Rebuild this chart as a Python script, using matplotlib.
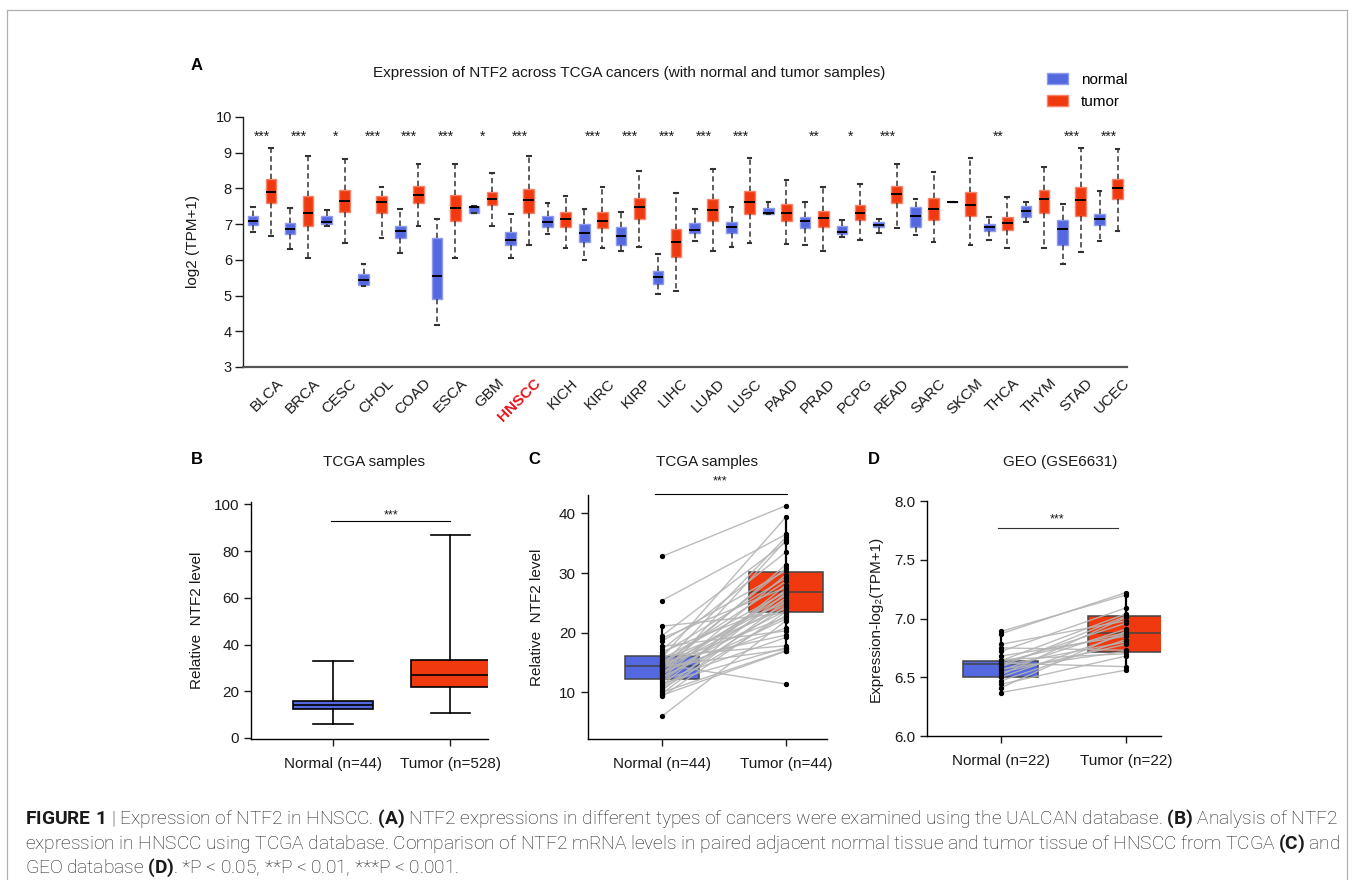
import numpy as np
import matplotlib
matplotlib.use('Agg')
import matplotlib.pyplot as plt
from matplotlib import font_manager
from matplotlib.patches import Patch
from matplotlib.lines import Line2D
import matplotlib.transforms as mtransforms

# ---------------- data ----------------
cancers = ['BLCA', 'BRCA', 'CESC', 'CHOL', 'COAD', 'ESCA', 'GBM', 'HNSCC', 'KICH', 'KIRC',
           'KIRP', 'LIHC', 'LUAD', 'LUSC', 'PAAD', 'PRAD', 'PCPG', 'READ', 'SARC', 'SKCM',
           'THCA', 'THYM', 'STAD', 'UCEC']
normal_whislo = [6.79, 6.30, 6.96, 5.27, 6.20, 4.17, 7.30, 6.06, 6.73, 6.00, 6.26, 5.04,
                 6.53, 6.37, 7.27, 6.42, 6.63, 6.74, 6.69, 7.62, 6.56, 7.07, 5.88, 6.53]
normal_q1 = [6.98, 6.71, 6.99, 5.30, 6.62, 4.89, 7.30, 6.41, 6.92, 6.49, 6.42, 5.33,
             6.74, 6.74, 7.27, 6.88, 6.71, 6.91, 6.93, 7.62, 6.82, 7.19, 6.42, 6.97]
normal_med = [7.09, 6.86, 7.05, 5.44, 6.82, 5.56, 7.49, 6.56, 7.05, 6.75, 6.67, 5.52,
              6.84, 6.93, 7.30, 7.09, 6.79, 6.98, 7.22, 7.62, 6.92, 7.36, 6.86, 7.15]
normal_q3 = [7.23, 7.04, 7.23, 5.61, 6.96, 6.62, 7.50, 6.79, 7.23, 6.99, 6.92, 5.70,
             7.03, 7.07, 7.45, 7.19, 6.96, 7.05, 7.47, 7.62, 7.01, 7.50, 7.12, 7.28]
normal_whishi = [7.49, 7.44, 7.39, 5.88, 7.42, 7.15, 7.51, 7.29, 7.60, 7.42, 7.33, 6.17,
                 7.42, 7.49, 7.62, 7.62, 7.11, 7.15, 7.71, 7.62, 7.21, 7.63, 7.57, 7.92]
tumor_whislo = [6.68, 6.04, 6.48, 6.60, 6.95, 6.04, 6.96, 6.42, 6.34, 6.32, 6.37, 5.14,
                6.24, 6.48, 6.44, 6.26, 6.55, 6.88, 6.50, 6.42, 6.32, 6.34, 6.21, 6.81]
tumor_q1 = [7.58, 6.96, 7.35, 7.32, 7.58, 7.10, 7.53, 7.32, 6.91, 6.88, 7.14, 6.09,
            7.09, 7.28, 7.08, 6.93, 7.12, 7.58, 7.12, 7.23, 6.84, 7.30, 7.23, 7.69]
tumor_med = [7.91, 7.30, 7.65, 7.61, 7.81, 7.46, 7.70, 7.68, 7.13, 7.09, 7.49, 6.51,
             7.39, 7.61, 7.30, 7.18, 7.32, 7.83, 7.41, 7.54, 7.02, 7.71, 7.68, 8.02]
tumor_q3 = [8.25, 7.78, 7.95, 7.78, 8.06, 7.82, 7.89, 7.97, 7.34, 7.34, 7.72, 6.85,
            7.69, 7.93, 7.56, 7.38, 7.53, 8.06, 7.72, 7.89, 7.21, 7.96, 8.04, 8.27]
tumor_whishi = [9.13, 8.91, 8.83, 8.04, 8.68, 8.68, 8.44, 8.90, 7.78, 8.04, 8.48, 7.86,
                8.55, 8.85, 8.24, 8.04, 8.12, 8.67, 8.47, 8.85, 7.76, 8.60, 9.12, 9.10]
significance = ['***', '***', '*', '***', '***', '***', '*', '***', '', '***', '***', '***',
                '***', '***', '', '**', '*', '***', '', '', '**', '', '***', '***']

# Panel B (TCGA, unpaired) box statistics
b_groups = ['Normal (n=44)', 'Tumor (n=528)']
b_whislo = [5.8, 10.7]
b_q1 = [12.4, 21.8]
b_med = [14.2, 26.9]
b_q3 = [16.0, 33.5]
b_whishi = [32.8, 86.9]

# Panel C (TCGA paired samples)
c_groups = ['Normal (n=44)', 'Tumor (n=44)']
c_normal = [32.8, 25.4, 21.1, 19.5, 19.1, 18.6, 17.7, 17.2, 16.8, 16.5, 16.1, 15.8, 15.6,
            15.3, 15.1, 14.9, 14.7, 14.6, 14.5, 14.4, 14.4, 14.3, 14.1, 13.9, 13.7, 13.5,
            13.3, 13.1, 12.8, 12.6, 12.4, 12.2, 12.0, 11.8, 11.5, 11.2, 10.9, 10.6, 10.3,
            10.0, 9.8, 9.5, 9.3, 6.0]
c_tumor = [41.3, 36.5, 23.3, 35.2, 27.6, 30.4, 20.3, 33.5, 25.0, 29.2, 17.8, 39.4, 26.8,
           24.1, 19.6, 28.6, 11.4, 22.6, 36.0, 25.5, 30.8, 17.2, 26.3, 24.7, 31.4, 20.8,
           27.0, 23.7, 35.5, 22.3, 29.7, 25.8, 19.2, 27.2, 17.5, 28.0, 24.4, 22.9, 26.6,
           17.0, 25.3, 16.9, 23.5, 22.0]
c_q1 = [12.19, 23.44]
c_med = [14.43, 26.79]
c_q3 = [16.16, 30.26]
c_whislo = [9.3, 16.9]
c_whishi = [21.1, 39.4]

# Panel D (GEO GSE6631 paired samples)
d_groups = ['Normal (n=22)', 'Tumor (n=22)']
d_normal = [6.89, 6.87, 6.78, 6.75, 6.72, 6.68, 6.65, 6.64, 6.63, 6.62, 6.61, 6.60, 6.59,
            6.57, 6.56, 6.54, 6.52, 6.50, 6.47, 6.44, 6.41, 6.37]
d_tumor = [7.20, 7.22, 6.98, 6.73, 7.09, 6.85, 6.70, 7.04, 6.88, 6.59, 6.96, 6.80, 7.02,
           6.72, 6.91, 6.78, 7.01, 6.87, 6.82, 6.68, 6.89, 6.56]
d_q1 = [6.499, 6.715]
d_med = [6.613, 6.879]
d_q3 = [6.641, 7.024]
d_whislo = [6.37, 6.56]
d_whishi = [6.89, 7.22]

# ---------------- style ----------------
entries = font_manager.fontManager.ttflist
installed = {f.name for f in entries}
BASE = 'Liberation Sans' if 'Liberation Sans' in installed else 'DejaVu Sans'
CAP_FONT = 'Roboto' if 'Roboto' in installed else BASE
CAP_WEIGHT = 'normal'
for f in entries:
    if f.name == CAP_FONT and str(f.weight) in ('300', 'light'):
        CAP_WEIGHT = 'light'
        break
plt.rcParams['font.family'] = [BASE, 'DejaVu Sans']
plt.rcParams['mathtext.fontset'] = 'custom'
plt.rcParams['mathtext.rm'] = CAP_FONT
plt.rcParams['mathtext.bf'] = CAP_FONT + ':bold'
plt.rcParams['axes.linewidth'] = 1.0

BLUE = '#5468E0'
BLUE_EDGE = '#8E9BEF'
RED = '#F0390F'
RED_EDGE = '#F7836A'
TXT = '#1a1a1a'

W, H = 1357, 880
fig = plt.figure(figsize=(W / 100, H / 100), dpi=100)


def rect(l, t, r, b):
    return [l / W, 1 - b / H, (r - l) / W, (b - t) / H]


def stats(lo, q1, med, q3, hi):
    return [dict(whislo=a, q1=b, med=c, q3=d, whishi=e, fliers=[])
            for a, b, c, d, e in zip(lo, q1, med, q3, hi)]


# ---------------- panel A ----------------
axA = fig.add_axes(rect(243, 117, 1127, 367))
pos = np.arange(len(cancers))
common = dict(patch_artist=True, showfliers=False,
              medianprops=dict(color='black', lw=1.4),
              whiskerprops=dict(color='#333333', lw=1.1, linestyle=(0, (3.5, 2.2))),
              capprops=dict(color='#333333', lw=1.5))
axA.bxp(stats(normal_whislo, normal_q1, normal_med, normal_q3, normal_whishi),
        positions=pos - 0.245, widths=0.29, capwidths=0.1,
        boxprops=dict(facecolor=BLUE, edgecolor=BLUE_EDGE, lw=1.0), **common)
axA.bxp(stats(tumor_whislo, tumor_q1, tumor_med, tumor_q3, tumor_whishi),
        positions=pos + 0.245, widths=0.29, capwidths=0.1,
        boxprops=dict(facecolor=RED, edgecolor=RED_EDGE, lw=1.0), **common)
for i, s in enumerate(significance):
    if s:
        axA.text(i, 9.44, s, ha='center', va='center', fontsize=10, color=TXT)
axA.set_xlim(-0.52, 23.5)
axA.set_ylim(3, 10)
axA.set_yticks(range(3, 11))
axA.tick_params(axis='y', length=6, width=1, labelsize=10.5, colors=TXT, pad=2)
axA.tick_params(axis='x', length=0, pad=0)
axA.set_xticks(pos)
axA.set_xticklabels(cancers, rotation=45, ha='right', va='center',
                    rotation_mode='anchor', fontsize=11, color=TXT)
offset = mtransforms.ScaledTranslation(19 / 100, -14 / 100, fig.dpi_scale_trans)
for lab in axA.get_xticklabels():
    lab.set_transform(lab.get_transform() + offset)
    if lab.get_text() == 'HNSCC':
        lab.set_color('#E8141C')
        lab.set_fontweight('bold')
for sp in ['top', 'right']:
    axA.spines[sp].set_visible(False)
axA.spines['left'].set_color('#222222')
axA.spines['bottom'].set_color('#555555')
axA.spines['bottom'].set_linewidth(1.6)
axA.set_ylabel('log2 (TPM+1)', fontsize=11, color=TXT)
axA.yaxis.set_label_coords(-0.049, 0.5)

fig.text(629 / W, 1 - 72.5 / H, 'Expression of NTF2 across TCGA cancers (with normal and tumor samples)',
         ha='center', va='center', fontsize=11, color=TXT)
fig.legend(handles=[Patch(facecolor=BLUE, edgecolor=BLUE_EDGE, label='normal'),
                    Patch(facecolor=RED, edgecolor=RED_EDGE, label='tumor')],
           loc='upper left', bbox_to_anchor=(1047 / W, 1 - 73 / H), frameon=False,
           fontsize=11, handlelength=1.35, handleheight=0.7, handletextpad=0.85,
           labelspacing=0.5, borderaxespad=0, borderpad=0)


def style_small(ax):
    for sp in ['top', 'right']:
        ax.spines[sp].set_visible(False)
    ax.tick_params(length=5, width=1, labelsize=11, colors=TXT)
    ax.tick_params(axis='x', pad=8)


# ---------------- panel B ----------------
axB = fig.add_axes(rect(251, 502, 488, 738.7))
axB.bxp(stats(b_whislo, b_q1, b_med, b_q3, b_whishi), positions=[0, 1], widths=0.68,
        capwidths=0.34, patch_artist=True, showfliers=False,
        boxprops=dict(lw=1.2, edgecolor='black'),
        medianprops=dict(color='black', lw=1.2),
        whiskerprops=dict(color='black', lw=1.2), capprops=dict(color='black', lw=1.2))
for patch, col in zip(axB.patches, [BLUE, RED]):
    patch.set_facecolor(col)
axB.set_xlim(-0.7, 1.32)
axB.set_ylim(-0.3, 101)
axB.set_yticks(range(0, 101, 20))
axB.set_xticks([0, 1])
axB.set_xticklabels(b_groups)
style_small(axB)
axB.plot([-0.02, 1.0], [92.9, 92.9], color='black', lw=0.8, clip_on=False)
axB.text(0.49, 95.4, '***', ha='center', va='center', fontsize=9, color=TXT)
axB.set_ylabel('Relative  NTF2 level', fontsize=11, color=TXT)
axB.yaxis.set_label_coords(-0.198, 0.5)


def paired(ax, normal, tumor, q1, med, q3, lo, hi):
    for a, b in zip(normal, tumor):
        ax.plot([0, 1], [a, b], color='#B4B4B4', lw=1.0, alpha=0.9, zorder=3)
    ax.bxp(stats(lo, q1, med, q3, hi), positions=[0, 1], widths=0.6, showcaps=False,
           patch_artist=True, showfliers=False,
           boxprops=dict(lw=1.1, edgecolor='#444444'),
           medianprops=dict(color='#444444', lw=1.1),
           whiskerprops=dict(color='black', lw=1.6), zorder=2)
    for patch, col in zip(ax.patches, [BLUE, RED]):
        patch.set_facecolor(col)
    ax.scatter(np.zeros(len(normal)), normal, s=8, color='black', zorder=4)
    ax.scatter(np.ones(len(tumor)), tumor, s=8, color='black', zorder=4)


# ---------------- panel C ----------------
axC = fig.add_axes(rect(587.7, 495, 826.7, 739))
paired(axC, c_normal, c_tumor, c_q1, c_med, c_q3, c_whislo, c_whishi)
axC.set_xlim(-0.6, 1.33)
axC.set_ylim(2.17, 43.1)
axC.set_yticks([10, 20, 30, 40])
axC.set_xticks([0, 1])
axC.set_xticklabels(c_groups)
style_small(axC)
axC.plot([-0.06, 1.01], [43.3, 43.3], color='black', lw=0.8, clip_on=False)
axC.text(0.47, 45.4, '***', ha='center', va='center', fontsize=9, color=TXT)
axC.set_ylabel('Relative  NTF2 level', fontsize=11, color=TXT)
axC.yaxis.set_label_coords(-0.183, 0.5)

# ---------------- panel D ----------------
axD = fig.add_axes(rect(927.3, 501, 1160.7, 736))
paired(axD, d_normal, d_tumor, d_q1, d_med, d_q3, d_whislo, d_whishi)
axD.set_xlim(-0.59, 1.28)
axD.set_ylim(6.0, 8.0)
axD.set_yticks([6.0, 6.5, 7.0, 7.5, 8.0])
axD.set_yticklabels(['6.0', '6.5', '7.0', '7.5', '8.0'])
axD.set_xticks([0, 1])
axD.set_xticklabels(d_groups)
style_small(axD)
axD.plot([-0.02, 0.94], [7.767, 7.767], color='#333333', lw=0.8, clip_on=False)
axD.text(0.45, 7.845, '***', ha='center', va='center', fontsize=9, color=TXT)
axD.set_ylabel('Expression-log\u2082(TPM+1)', fontsize=11, color=TXT)
axD.yaxis.set_label_coords(-0.19, 0.5)

# ---------------- panel letters and titles ----------------
for letter, x, y in [('A', 191, 66), ('B', 191, 459), ('C', 528, 459), ('D', 868, 459)]:
    fig.text(x / W, 1 - y / H, letter, fontsize=12, fontweight='bold', ha='left',
             va='center', color='black')
for title, x in [('TCGA samples', 374), ('TCGA samples', 707), ('GEO (GSE6631)', 1060)]:
    fig.text(x / W, 1 - 461.5 / H, title, fontsize=11, ha='center', va='center', color=TXT)

# ---------------- frame ----------------
frame_kw = dict(color='#B0B0B0', lw=0.9, transform=fig.transFigure)
fig.add_artist(Line2D([7 / W, 1347 / W], [1 - 10 / H, 1 - 10 / H], **frame_kw))
fig.add_artist(Line2D([7 / W, 7 / W], [1 - 10 / H, 0], **frame_kw))
fig.add_artist(Line2D([1347 / W, 1347 / W], [1 - 10 / H, 0], **frame_kw))

# ---------------- caption ----------------
cap_lines = [
    r"$\mathbf{FIGURE\ 1}$ | Expression of NTF2 in HNSCC. $\mathbf{(A)}$ NTF2 expressions in different types of cancers were examined using the UALCAN database. $\mathbf{(B)}$ Analysis of NTF2",
    r"expression in HNSCC using TCGA database. Comparison of NTF2 mRNA levels in paired adjacent normal tissue and tumor tissue of HNSCC from TCGA $\mathbf{(C)}$ and",
    r"GEO database $\mathbf{(D)}$. *P < 0.05, **P < 0.01, ***P < 0.001.",
]
renderer = fig.canvas.get_renderer()
probe = fig.text(0, 0, cap_lines[0], fontsize=12, family=CAP_FONT, fontweight=CAP_WEIGHT)
w0 = probe.get_window_extent(renderer).width
probe.remove()
cap_size = min(15.0, 12 * 1310 / w0)
for line, yb in zip(cap_lines, [824, 848.5, 873]):
    fig.text(25 / W, 1 - yb / H, line, fontsize=cap_size, family=CAP_FONT,
             fontweight=CAP_WEIGHT, ha='left', va='baseline', color='#1a1a1a')

fig.savefig('out.png', dpi=100)
